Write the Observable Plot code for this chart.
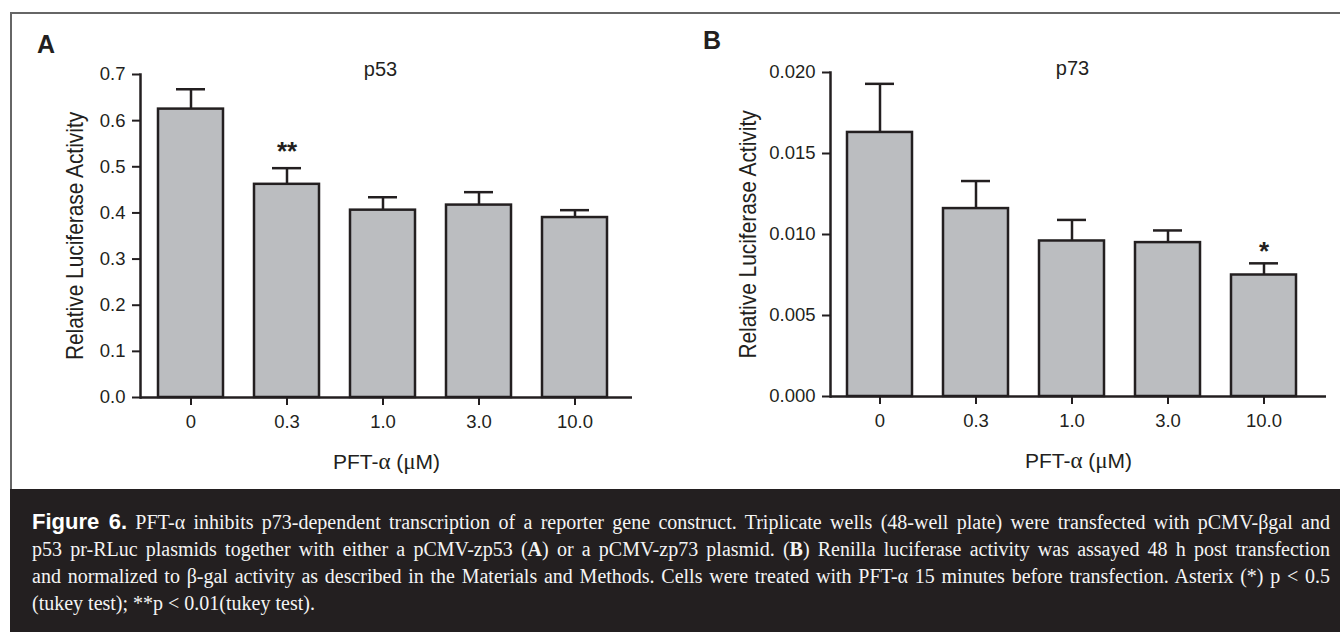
<!DOCTYPE html>
<html>
<head>
<meta charset="utf-8">
<script src="https://cdn.jsdelivr.net/npm/d3@7"></script>
<script src="https://cdn.jsdelivr.net/npm/@observablehq/plot@0.6"></script>
<style>
  html, body { margin: 0; padding: 0; background: #fff; }
  body { width: 1340px; height: 632px; overflow: hidden; position: relative;
         font-family: "Liberation Sans", Arial, sans-serif; }
  #frame { position: absolute; left: 10px; top: 12px; width: 1340px; height: 477px;
           border-left: 2px solid #666; border-top: 2px solid #666; box-sizing: border-box; }
  .panel { position: absolute; top: 0; }
  .tag { position: absolute; font-family: "Liberation Sans", Arial, sans-serif; font-weight: bold;
         font-size: 25px; line-height: 25px; color: #231f20; }
  #caption { position: absolute; left: 10px; top: 489px; width: 1330px; height: 143px;
             background: #231f20; color: #f4f4f4; box-sizing: border-box;
             padding: 19px 10px 0 22px; font-family: "Liberation Serif", "Times New Roman", serif;
             font-size: 20px; line-height: 27px; }
  #caption .j { text-align: justify; text-align-last: justify; white-space: nowrap; }
  #caption .fig { font-family: "Liberation Sans", Arial, sans-serif; font-weight: bold; font-size: 22px; color: #fff; }
</style>
</head>
<body>
<div id="frame"></div>
<div id="panelA" class="panel" style="left:0px"></div>
<div id="panelB" class="panel" style="left:670px"></div>
<div class="tag" style="left:37px; top:32px">A</div>
<div class="tag" style="left:703px; top:28px">B</div>
<div id="caption">
  <div class="j"><span class="fig">Figure 6.</span> PFT-α inhibits p73-dependent transcription of a reporter gene construct. Triplicate wells (48-well plate) were transfected with pCMV-βgal and</div>
  <div class="j">p53 pr-RLuc plasmids together with either a pCMV-zp53 (<b>A</b>) or a pCMV-zp73 plasmid. (<b>B</b>) Renilla luciferase activity was assayed 48 h post transfection</div>
  <div class="j">and normalized to β-gal activity as described in the Materials and Methods. Cells were treated with PFT-α 15 minutes before transfection. Asterix (*) p &lt; 0.5</div>
  <div>(tukey test); **p &lt; 0.01(tukey test).</div>
</div>
<script>
// ---- data ----
const doses = ["0", "0.3", "1.0", "3.0", "10.0"];
const p53Mean = [0.625, 0.462, 0.406, 0.417, 0.390];
const p53Sem  = [0.043, 0.035, 0.028, 0.028, 0.016];
const p53Sig  = ["", "**", "", "", ""];
const p73Mean = [0.0163, 0.0116, 0.0096, 0.0095, 0.0075];
const p73Sem  = [0.0030, 0.0017, 0.0013, 0.00075, 0.00072];
const p73Sig  = ["", "", "", "", "*"];
const p53Ticks = [0, 0.1, 0.2, 0.3, 0.4, 0.5, 0.6, 0.7];
const p73Ticks = [0, 0.005, 0.010, 0.015, 0.020];
const yTitle = "Relative Luciferase Activity";
const xTitle = "PFT-α (μM)";

const ink = "#231f20";
const barFill = "#bbbdc0";

function panel(o) {
  const data = doses.map((d, i) => ({dose: d, mean: o.mean[i], upper: o.mean[i] + o.sem[i], sig: o.sig[i]}));
  const chart = Plot.plot({
    width: 670, height: 489,
    marginLeft: o.ml, marginRight: o.mr, marginTop: o.mt, marginBottom: o.mb,
    style: {fontFamily: '"Liberation Sans", Arial, sans-serif', fontSize: "18.5px", color: ink, background: "transparent", overflow: "visible"},
    x: {domain: doses, range: o.xRange, paddingInner: 0.32, paddingOuter: 0, axis: null},
    y: {domain: o.yDomain, axis: null},
    marks: [
      Plot.ruleX(data, {x: "dose", y1: "mean", y2: "upper", stroke: ink, strokeWidth: 2.5}),
      Plot.tickY(data, {x: "dose", y: "upper", insetLeft: 18, insetRight: 18, stroke: ink, strokeWidth: 2.5}),
      Plot.barY(data, {x: "dose", y: "mean", fill: barFill, stroke: ink, strokeWidth: 2.5}),
      Plot.axisX({tickSize: 8, tickPadding: 9, stroke: ink, strokeWidth: 2, label: null, fontSize: 18.5}),
      Plot.axisY({ticks: o.yTicks, tickFormat: o.fmt, tickSize: 8, tickPadding: 7, stroke: ink, strokeWidth: 2, label: null, fontSize: 18.5}),
      Plot.ruleY([0], {stroke: ink, strokeWidth: 2.5}),
      Plot.frame({anchor: "left", stroke: ink, strokeWidth: 2.5}),
      Plot.text(data, {x: "dose", y: "upper", text: "sig", dy: o.starDy, fontSize: 26, fontWeight: "bold", fill: ink}),
      Plot.text([o.title], {frameAnchor: "top", textAnchor: "middle", lineAnchor: "middle", dx: -6, dy: o.titleDy, fontSize: 20, fill: ink}),
      Plot.text([yTitle], {frameAnchor: "left", textAnchor: "middle", lineAnchor: "middle", rotate: -90, dx: o.yLabelDx, fontSize: 24, fill: ink}),
      Plot.text([xTitle], {frameAnchor: "bottom", textAnchor: "middle", lineAnchor: "middle", dy: 65, fontSize: 21, fill: ink})
    ]
  });
  // condense the rotated y title and set greek letters in a serif face
  chart.querySelectorAll("text").forEach(t => {
    if (t.textContent === yTitle) {
      t.setAttribute("transform", (t.getAttribute("transform") || "") + " scale(0.87,1)");
    } else if (t.textContent === xTitle) {
      t.innerHTML = 'PFT-<tspan font-family="Liberation Serif, serif" font-size="23">α</tspan> (<tspan font-family="Liberation Serif, serif" font-size="23">μ</tspan>M)';
    }
  });
  return chart;
}

document.getElementById("panelA").append(panel({
  mean: p53Mean, sem: p53Sem, sig: p53Sig, title: "p53",
  yDomain: [0, 0.7], yTicks: p53Ticks, fmt: d3.format(".1f"),
  ml: 140, mr: 38, mt: 74, mb: 92, xRange: [157, 609],
  starDy: -16, titleDy: -5, yLabelDx: -65
}));
document.getElementById("panelB").append(panel({
  mean: p73Mean, sem: p73Sem, sig: p73Sig, title: "p73",
  yDomain: [0, 0.020], yTicks: p73Ticks, fmt: d3.format(".3f"),
  ml: 160, mr: 14, mt: 72, mb: 93, xRange: [175, 628],
  starDy: -12, titleDy: -4, yLabelDx: -82
}));
</script>
</body>
</html>
